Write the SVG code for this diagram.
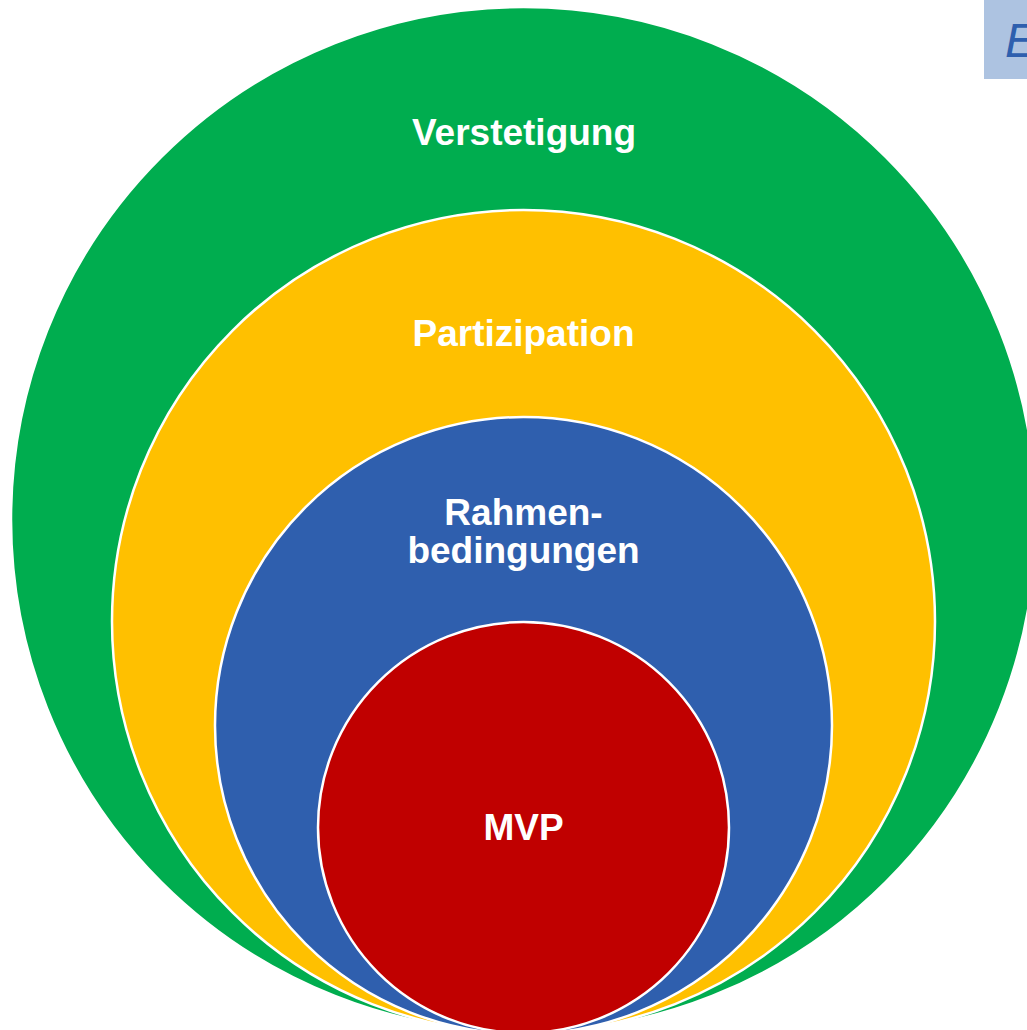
<svg xmlns="http://www.w3.org/2000/svg" width="1027" height="1030" viewBox="0 0 1027 1030">
<style>
.ring{stroke:#ffffff;stroke-width:2.5}
.lbl{font-family:"Liberation Sans",Arial,sans-serif;font-weight:bold;font-size:37px;fill:#ffffff;text-anchor:middle}
</style>
<rect x="0" y="0" width="1027" height="1030" fill="#ffffff"/>
<g id="corner-box">
<rect x="984" y="-2" width="50" height="81" fill="#adc3e1"/>
<text x="1005" y="57" font-family="Liberation Sans,Arial,sans-serif" font-style="italic" font-size="48" fill="#2e5fae">E</text>
</g>
<g id="verstetigung">
<circle class="ring" cx="523.5" cy="519.5" r="512.5" fill="#00ad4f"/>
<text class="lbl" x="524" y="145">Verstetigung</text>
</g>
<g id="partizipation">
<circle class="ring" cx="523.5" cy="621.5" r="411.5" fill="#ffc000"/>
<text class="lbl" x="523.5" y="346">Partizipation</text>
</g>
<g id="rahmenbedingungen">
<circle class="ring" cx="523.5" cy="725.5" r="308.5" fill="#2f5fae"/>
<text class="lbl" x="523.5" y="525">Rahmen-</text>
<text class="lbl" x="523.5" y="563">bedingungen</text>
</g>
<g id="mvp">
<circle class="ring" cx="523.5" cy="827.5" r="205.5" fill="#c00000"/>
<text class="lbl" x="523.5" y="840">MVP</text>
</g>
<g id="connectors"/>
</svg>
